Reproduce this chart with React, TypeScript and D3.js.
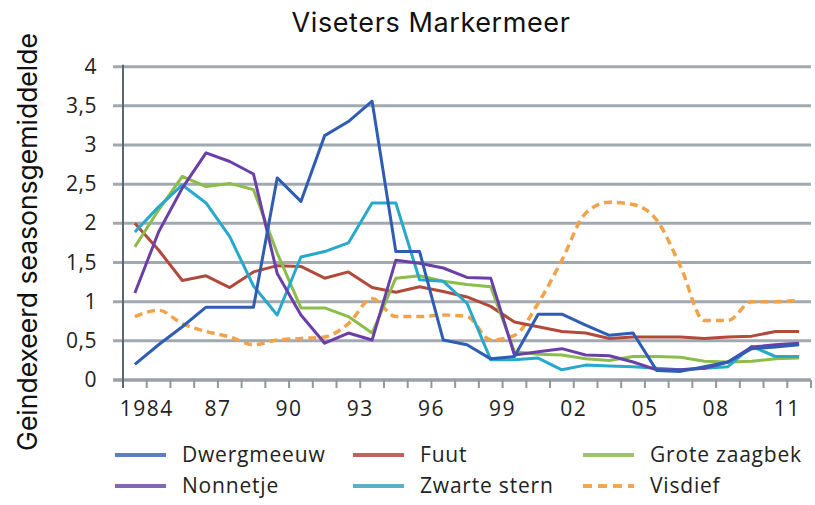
import React from 'react';
import * as d3 from 'd3';

const width = 815,
      height = 505;

const years = d3.range(1984, 2013);
const tickYears = [1984, 1987, 1990, 1993, 1996, 1999, 2002, 2005, 2008, 2011];
const tickLabels = ['1984', '87', '90', '93', '96', '99', '02', '05', '08', '11'];
const yTicks = [0, 0.5, 1, 1.5, 2, 2.5, 3, 3.5, 4];

const dwergmeeuw = [0.2, 0.45, 0.68, 0.93, 0.93, 0.93, 2.58, 2.28, 3.12, 3.3, 3.56, 1.64, 1.64, 0.51, 0.45, 0.27, 0.3, 0.84, 0.84, 0.7, 0.57, 0.6, 0.12, 0.11, 0.17, 0.23, 0.4, 0.42, 0.45];
const fuut = [2.0, 1.66, 1.27, 1.33, 1.18, 1.38, 1.46, 1.45, 1.3, 1.38, 1.18, 1.12, 1.19, 1.13, 1.06, 0.94, 0.74, 0.68, 0.62, 0.6, 0.53, 0.55, 0.55, 0.55, 0.53, 0.55, 0.56, 0.62, 0.62];
const groteZaagbek = [1.7, 2.17, 2.6, 2.47, 2.51, 2.43, 1.62, 0.92, 0.92, 0.81, 0.6, 1.3, 1.33, 1.26, 1.22, 1.19, 0.36, 0.33, 0.32, 0.27, 0.25, 0.3, 0.3, 0.29, 0.24, 0.23, 0.24, 0.27, 0.28];
const nonnetje = [1.11, 1.89, 2.45, 2.9, 2.79, 2.63, 1.36, 0.83, 0.47, 0.6, 0.51, 1.53, 1.49, 1.43, 1.31, 1.3, 0.32, 0.36, 0.4, 0.32, 0.31, 0.23, 0.13, 0.13, 0.15, 0.23, 0.42, 0.45, 0.47];
const zwarteStern = [1.89, 2.21, 2.49, 2.26, 1.83, 1.2, 0.83, 1.57, 1.64, 1.75, 2.26, 2.26, 1.28, 1.26, 0.98, 0.26, 0.26, 0.28, 0.13, 0.19, 0.18, 0.17, 0.15, 0.13, 0.15, 0.17, 0.43, 0.3, 0.3];
const visdief = [0.81, 0.89, 0.72, 0.62, 0.55, 0.45, 0.51, 0.53, 0.55, 0.72, 1.04, 0.81, 0.81, 0.83, 0.81, 0.51, 0.57, 0.98, 1.53, 2.13, 2.27, 2.24, 2.04, 1.45, 0.76, 0.76, 1.0, 1.0, 1.02];

// draw order: back to front
const series = [
  { name: 'Visdief', values: visdief, color: '#f2a349', legend: '#f0a850', dashed: true },
  { name: 'Fuut', values: fuut, color: '#b24a3b', legend: '#c2625a' },
  { name: 'Grote zaagbek', values: groteZaagbek, color: '#8cbd4b', legend: '#9cc566' },
  { name: 'Zwarte stern', values: zwarteStern, color: '#27a9cc', legend: '#5eaecb' },
  { name: 'Nonnetje', values: nonnetje, color: '#6b3fa8', legend: '#8268b0' },
  { name: 'Dwergmeeuw', values: dwergmeeuw, color: '#2e5db3', legend: '#5b80c2' },
];

const legendOrder = ['Dwergmeeuw', 'Fuut', 'Grote zaagbek', 'Nonnetje', 'Zwarte stern', 'Visdief'];

const labelFont = "'Open Sans', sans-serif";
const titleFont = "Inter, 'Liberation Sans', sans-serif";

export default function App() {
  const x = d3.scaleBand<number>()
              .domain(years)
              .range([123, 811])
              .padding(0);
  const bw = x.bandwidth();
  const cx = (yr: number) => (x(yr) as number) + bw / 2;

  const y = d3.scaleLinear()
              .domain([0, 4])
              .range([380, 66.7]);

  const straight = d3.line<number>()
                     .x((d, i) => cx(years[i]))
                     .y(d => y(d));
  const smooth = d3.line<number>()
                   .x((d, i) => cx(years[i]))
                   .y(d => y(d))
                   .curve(d3.curveMonotoneX);

  const [x0, x1] = x.range();
  const boundaries = d3.range(years.length + 1).map(k => x0 + k * bw);

  const colX = [115, 353, 583],
        rowY = [455, 486];

  return (
    <div style={{ position: 'fixed', left: 0, top: 0 }}>
      <svg width={width} height={height} style={{ display: 'block', background: '#fff' }}>
        <text x={431} y={32} textAnchor="middle" fontFamily={titleFont} fontSize={27}
              letterSpacing={0.6} fill="#111">
          Viseters Markermeer
        </text>
        <text transform={`translate(37,242) rotate(-90)`} textAnchor="middle"
              fontFamily={titleFont} fontSize={26.5} fill="#111">
          Geindexeerd seasonsgemiddelde
        </text>

        {/* grid */}
        {yTicks.map(t =>
          <g key={t}>
            <line x1={113} x2={x1} y1={y(t)} y2={y(t)}
                  stroke={t === 0 ? '#98a1a8' : '#a0a9b0'} strokeWidth={t === 0 ? 3.5 : 3} />
            <text x={97} y={y(t) + 7} textAnchor="end" fontFamily={labelFont}
                  fontSize={21} fill="#222" letterSpacing={0.5}>
              {String(t).replace('.', ',')}
            </text>
          </g>
        )}
        <line x1={x0} x2={x0} y1={y(4) - 2} y2={388} stroke="#5b6670" strokeWidth={2} />
        {boundaries.slice(1).map((b, i) =>
          <line key={i} x1={b} x2={b} y1={380} y2={388} stroke="#8f989f" strokeWidth={2} />
        )}
        {tickYears.map((yr, i) =>
          <text key={yr} x={(x(yr) as number) + bw} y={416} textAnchor="middle"
                fontFamily={labelFont} fontSize={21} fill="#222" letterSpacing={1.5}>
            {tickLabels[i]}
          </text>
        )}

        {/* series */}
        {series.map(s =>
          <path key={s.name}
                d={(s.dashed ? smooth : straight)(s.values) as string}
                fill="none" stroke={s.color}
                strokeWidth={s.dashed ? 3.5 : 3}
                strokeDasharray={s.dashed ? '8,5' : undefined}
                strokeLinejoin="round" />
        )}

        {/* legend */}
        {legendOrder.map((name, i) => {
          const s = series.find(d => d.name === name)!;
          const lx = colX[i % 3],
                ly = rowY[Math.floor(i / 3)];
          return (
            <g key={name}>
              <line x1={lx} x2={lx + 51} y1={ly} y2={ly} stroke={s.legend}
                    strokeWidth={4} strokeDasharray={s.dashed ? '9,6' : undefined} />
              <text x={lx + 67} y={ly + 7} fontFamily={labelFont} fontSize={21}
                    fill="#222" letterSpacing={0.8}>
                {name}
              </text>
            </g>
          );
        })}
      </svg>
    </div>
  );
}
